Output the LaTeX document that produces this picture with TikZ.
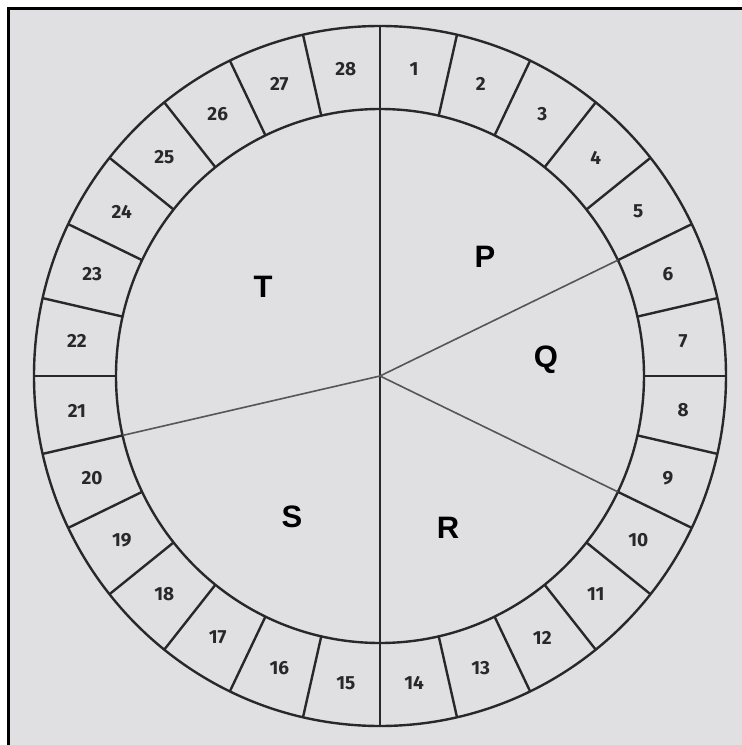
\documentclass[tikz,border=0pt]{standalone}
\usepackage{fontspec}
\setmainfont{Liberation Sans}
\newfontfamily\numfont{Fira Sans}
\definecolor{bgcol}{RGB}{224,224,227}
\definecolor{inkcol}{RGB}{40,40,44}
\definecolor{thincol}{RGB}{85,85,90}
\tikzset{
  ringline/.style={draw=inkcol, line width=2.4pt},
  sectorline/.style={draw=thincol, line width=1.6pt},
  numlabel/.style={font=\numfont\bfseries\fontsize{19}{19}\selectfont, text=inkcol, inner sep=0pt},
  sectorlabel/.style={font=\bfseries\fontsize{31}{31}\selectfont, text=black, inner sep=0pt}
}
\begin{document}
\begin{tikzpicture}[x=1pt,y=1pt]
  % canvas: pixel x -> X = x-380, pixel y -> Y = 376-y
  \useasboundingbox (-380,-369) rectangle (362,376);
  \fill[white] (-380,-369) rectangle (362,376);
  \fill[bgcol] (-371,-369) rectangle (362,367);
  \draw[black, line width=3pt] (-371,-369) -- (-371,367) -- (362,367);
  % ring
  \draw[ringline] (0,0) ellipse [x radius=346, y radius=350];
  \draw[ringline] (0,0) ellipse [x radius=264, y radius=267];
  \foreach \k in {0,...,27} {
    \pgfmathsetmacro{\a}{90-\k*360/28}
    \draw[ringline] ({264*cos(\a)},{267*sin(\a)}) -- ({346*cos(\a)},{350*sin(\a)});
  }
  % numbers
  \foreach \k in {1,...,28} {
    \pgfmathsetmacro{\a}{90-(\k-0.5)*360/28}
    \node[numlabel] (n\k) at ({305*cos(\a)},{309*sin(\a)}) {\k};
  }
  % sectors
  \coordinate (c) at (0,0);
  \draw[ringline] (0,267) -- (0,-267);
  \foreach \k in {5,9,20} {
    \pgfmathsetmacro{\a}{90-\k*360/28}
    \draw[sectorline] (c) -- ({264*cos(\a)},{267*sin(\a)});
  }
  \node[sectorlabel] (P) at (105,119) {P};
  \node[sectorlabel] (Q) at (166,16) {Q};
  \node[sectorlabel] (R) at (68,-152) {R};
  \node[sectorlabel] (S) at (-88,-141) {S};
  \node[sectorlabel] (T) at (-117,89) {T};
\end{tikzpicture}
\end{document}
